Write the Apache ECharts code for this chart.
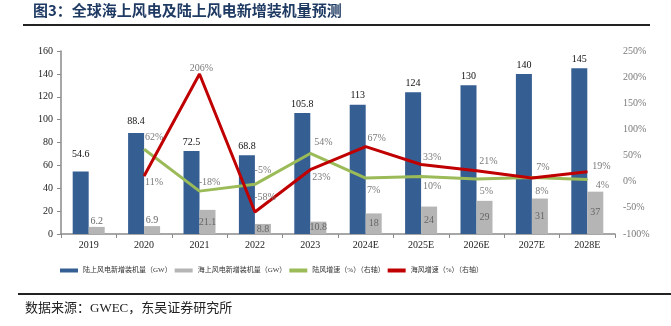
<!DOCTYPE html>
<html><head><meta charset="utf-8">
<script src="https://cdn.jsdelivr.net/npm/echarts@6/dist/echarts.min.js"></script>
<style>html,body{margin:0;padding:0;background:#fff}#c{width:671px;height:326px}</style>
</head><body><div id="c"></div>
<script>
const categories = ['2019','2020','2021','2022','2023','2024E','2025E','2026E','2027E','2028E'];
const onshoreGW = [54.6, 88.4, 72.5, 68.8, 105.8, 113, 124, 130, 140, 145];
const offshoreGW = [6.2, 6.9, 21.1, 8.8, 10.8, 18, 24, 29, 31, 37];
const onshoreGrowth = [null, 62, -18, -5, 54, 7, 10, 5, 8, 4];
const offshoreGrowth = [null, 11, 206, -58, 23, 67, 33, 21, 7, 19];
const leftTicks = {min: 0, max: 160, interval: 20};
const rightTicks = {min: -100, max: 250, interval: 50};

// label layout (styling only)
const onshoreGrowthOffsets = [null,[10,-12],[10,-9],[8,-14],[13,-11],[8,12],[11,10],[10,12],[10,14],[15,6]];
const offshoreGrowthOffsets = [null,[10,6],[2,-6],[10,-15],[11,8],[11,-8],[11,-7],[12,-9],[11,-11],[14,-5]];
const onshoreBarOffsets = [[0,-8],[0,-3],[0,0],[0,0],[0,0],[0,0],[0,0],[0,0],[0,0],[0,0]];

const serif = '"Liberation Serif","Noto Sans CJK SC",serif';
const pctColor = '#7a7a7a';

function lineData(vals, offs){
  return vals.map((v,i)=> v==null ? null : {value:v, label:{offset:offs[i]}});
}

const chart = echarts.init(document.getElementById('c'), null, {renderer:'canvas'});
chart.setOption({
  backgroundColor:'#fff',
  animation:false,
  textStyle:{fontFamily:serif},
  grid:{left:61, right:56, top:51, bottom:92},
  legend:{
    left:55, top:262, itemWidth:18, itemHeight:4, itemGap:3,
    textStyle:{fontSize:7, color:'#333', fontFamily:serif},
    data:[
      {name:'陆上风电新增装机量（GW）', icon:'rect'},
      {name:'海上风电新增装机量（GW）', icon:'rect'},
      {name:'陆风增速（%）（右轴）', icon:'rect'},
      {name:'海风增速（%）（右轴）', icon:'rect'}
    ]
  },
  xAxis:{
    type:'category', data:categories,
    axisLine:{lineStyle:{color:'#8a8a8a', width:1.5}},
    axisTick:{show:true, length:4, lineStyle:{color:'#8a8a8a'}},
    axisLabel:{color:'#222', fontSize:10, fontFamily:serif, margin:6}
  },
  yAxis:[
    {type:'value', min:leftTicks.min, max:leftTicks.max, interval:leftTicks.interval,
     splitLine:{show:false},
     axisLine:{show:true, lineStyle:{color:'#8a8a8a', width:1.5}},
     axisTick:{show:true, length:4, lineStyle:{color:'#8a8a8a'}},
     axisLabel:{color:'#222', fontSize:10, fontFamily:serif, margin:8}},
    {type:'value', min:rightTicks.min, max:rightTicks.max, interval:rightTicks.interval,
     splitLine:{show:false},
     axisLine:{show:false}, axisTick:{show:false},
     axisLabel:{color:'#7a7a7a', fontSize:10, fontFamily:serif, margin:8, formatter:'{value}%'}}
  ],
  series:[
    {name:'陆上风电新增装机量（GW）', type:'bar', barWidth:16, barGap:'0%',
     itemStyle:{color:'#355e92'},
     label:{show:true, position:'top', distance:4, color:'#111', fontSize:10, fontFamily:serif},
     data:onshoreGW.map((v,i)=>({value:v, label:{offset:onshoreBarOffsets[i]}}))},
    {name:'海上风电新增装机量（GW）', type:'bar', barWidth:16,
     itemStyle:{color:'#b5b5b5'},
     label:{show:true, position:'inside', color:'#666', fontSize:10, fontFamily:serif},
     data:offshoreGW.map((v,i)=> i<2 ? {value:v, label:{position:'top', distance:1}} : v)},
    {name:'陆风增速（%）（右轴）', type:'line', yAxisIndex:1,
     symbol:'circle', symbolSize:1, showSymbol:true,
     lineStyle:{color:'#9bbb59', width:3}, itemStyle:{color:'#9bbb59'},
     label:{show:true, position:'inside', color:pctColor, fontSize:10, fontFamily:serif, formatter:'{c}%'},
     data:lineData(onshoreGrowth, onshoreGrowthOffsets), z:3},
    {name:'海风增速（%）（右轴）', type:'line', yAxisIndex:1,
     symbol:'circle', symbolSize:1, showSymbol:true,
     lineStyle:{color:'#c00000', width:3}, itemStyle:{color:'#c00000'},
     label:{show:true, position:'inside', color:pctColor, fontSize:10, fontFamily:serif, formatter:'{c}%'},
     data:lineData(offshoreGrowth, offshoreGrowthOffsets), z:4}
  ],
  graphic:[
    {type:'text', left:33, top:3, style:{text:'图3：全球海上风电及陆上风电新增装机量预测', fill:'#1f3a63', font:'bold 15px "Noto Sans CJK SC", sans-serif'}},
    {type:'line', shape:{x1:23, y1:25, x2:650, y2:25}, style:{stroke:'#222', lineWidth:2}},
    {type:'line', shape:{x1:18, y1:294, x2:671, y2:294}, style:{stroke:'#222', lineWidth:2}},
    {type:'text', left:25, top:302, style:{text:'数据来源：GWEC，东吴证券研究所', fill:'#222', font:'13px "Liberation Serif","Noto Sans CJK SC", serif'}}
  ]
});
</script></body></html>
